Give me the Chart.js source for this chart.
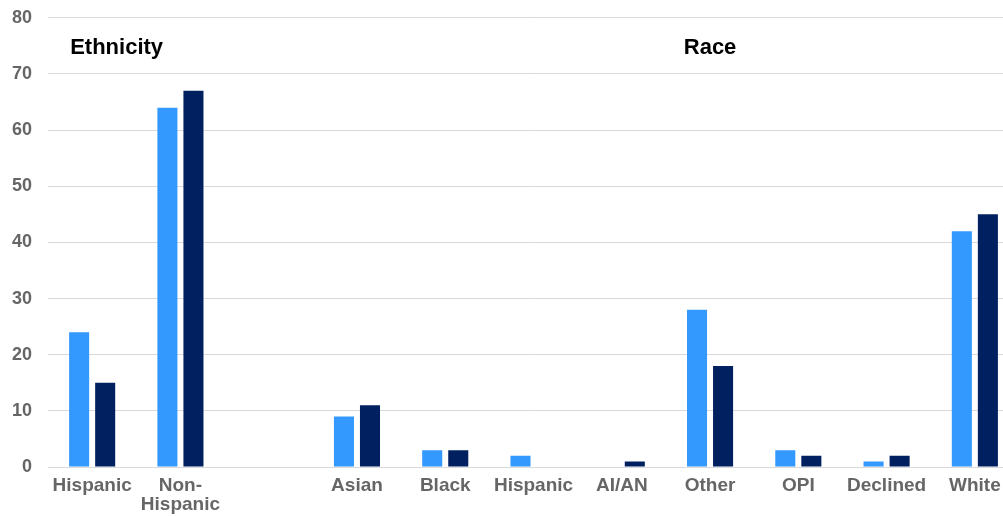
<!DOCTYPE html>
<html>
<head>
<meta charset="utf-8">
<script src="https://cdn.jsdelivr.net/npm/chart.js@4/dist/chart.umd.min.js"></script>
<style>
  html, body { margin: 0; padding: 0; background: #fff; overflow: hidden; }
  #wrap { width: 1031px; height: 525px; position: relative; margin-left: -12px; margin-top: -9px; }
</style>
</head>
<body>
<div id="wrap"><canvas id="barChart"></canvas></div>
<script>
const categories = ['Hispanic', ['Non-', 'Hispanic'], '', 'Asian', 'Black', 'Hispanic', 'AI/AN', 'Other', 'OPI', 'Declined', 'White'];
const seriesLight = [24, 64, null, 9, 3, 2, 0, 28, 3, 1, 42];
const seriesDark = [15, 67, null, 11, 3, 0, 1, 18, 2, 2, 45];
const yTicks = [0, 10, 20, 30, 40, 50, 60, 70, 80];
const groupLabels = [
  { text: 'Ethnicity', index: 0, value: 74.6, align: 'left' },
  { text: 'Race', index: 7, value: 74.6, align: 'center' }
];

// draws the "Ethnicity" / "Race" headings using the chart scales
const groupLabelPlugin = {
  id: 'groupLabels',
  afterDraw(chart) {
    const { ctx, scales } = chart;
    ctx.save();
    ctx.font = 'bold 22px "Liberation Sans", Arial, sans-serif';
    ctx.fillStyle = '#000';
    ctx.textBaseline = 'middle';
    groupLabels.forEach(g => {
      let x = scales.x.getPixelForValue(g.index);
      if (g.align === 'left') x -= 22;
      ctx.textAlign = g.align;
      ctx.fillText(g.text, x, scales.y.getPixelForValue(g.value));
    });
    ctx.restore();
  }
};

const ctx = document.getElementById('barChart').getContext('2d');
new Chart(ctx, {
  type: 'bar',
  data: {
    labels: categories,
    datasets: [
      { label: 'Series 1', data: seriesLight, backgroundColor: '#3399ff', barPercentage: 0.77, categoryPercentage: 0.59 },
      { label: 'Series 2', data: seriesDark, backgroundColor: '#002060', barPercentage: 0.77, categoryPercentage: 0.59 }
    ]
  },
  options: {
    responsive: true,
    maintainAspectRatio: false,
    animation: false,
    layout: { padding: { top: 0, left: 8, right: 0, bottom: 1 } },
    scales: {
      y: {
        min: 0,
        max: 80,
        afterBuildTicks: axis => { axis.ticks = yTicks.map(v => ({ value: v })); },
        border: { display: false },
        grid: { color: '#d9d9d9', lineWidth: 1, drawTicks: false },
        ticks: {
          padding: 16,
          color: '#666',
          font: { family: '"Liberation Sans", Arial, sans-serif', size: 18, weight: 'bold' }
        }
      },
      x: {
        border: { display: false },
        grid: { display: false },
        ticks: {
          padding: 1,
          maxRotation: 0,
          autoSkip: false,
          color: '#666',
          font: { family: '"Liberation Sans", Arial, sans-serif', size: 19, weight: 'bold', lineHeight: 1.0 }
        }
      }
    },
    plugins: {
      legend: { display: false },
      tooltip: { enabled: false }
    }
  },
  plugins: [groupLabelPlugin]
});
</script>
</body>
</html>
